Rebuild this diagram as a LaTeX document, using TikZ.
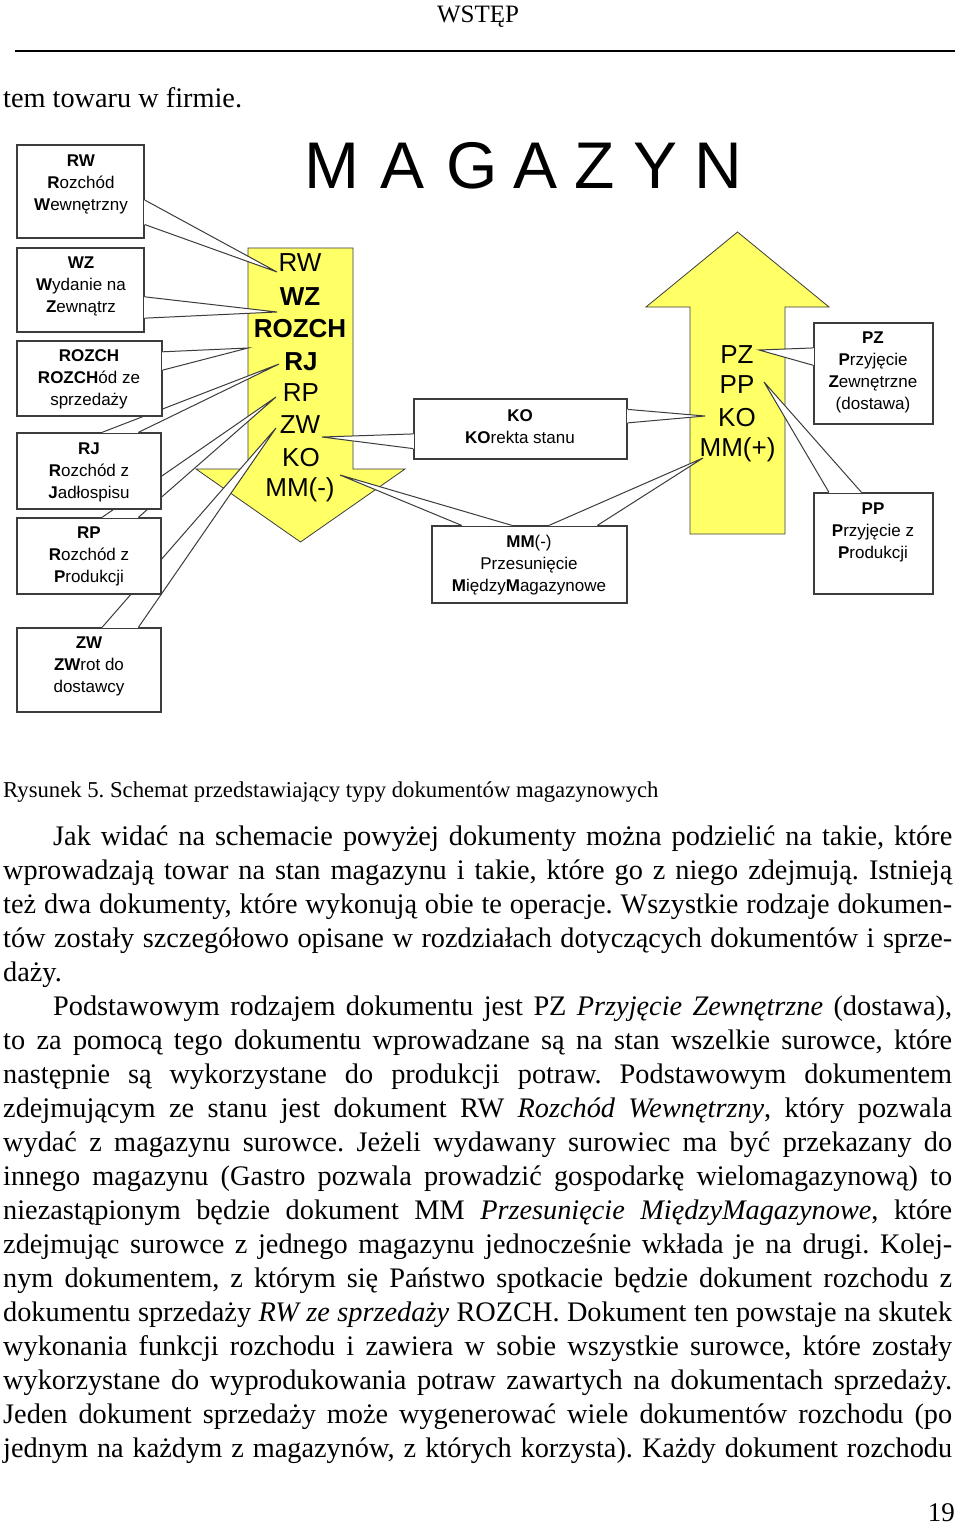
\documentclass[tikz,border=0pt]{standalone}
\usepackage{fontspec}
\setmainfont{Liberation Serif}
\newfontfamily\arialf{Liberation Sans}
\usetikzlibrary{calc}
\frenchspacing
\definecolor{arrowyellow}{RGB}{255,255,102}
\definecolor{edgegray}{RGB}{60,60,60}
\newcommand\callwedge[3]{%
  \fill[white] #1 -- #3 -- #2 -- cycle;
  \draw[white, line width=1.8pt] #1 -- #2;
  \draw[wedgeline] #1 -- #3 -- #2;
}
\newcommand\jline[4]{\node[bodytext] (#1) at (#2) {\makebox[#3pt][s]{#4}};}
\newcommand\nline[3]{\node[bodytext] (#1) at (#2) {#3};}
\begin{document}
\begin{tikzpicture}[x=1pt,y=-1pt,
  cbox/.style={draw=edgegray, line width=1.3pt, fill=white, inner sep=0pt},
  ctext/.style={align=center, font=\arialf\fontsize{17}{22}\selectfont, inner sep=0pt},
  atext/.style={font=\arialf\fontsize{26}{30}\selectfont, inner sep=0pt},
  bigarrow/.style={draw=edgegray, line width=0.8pt, fill=arrowyellow, line join=miter},
  wedgeline/.style={edgegray, line width=1pt, line join=miter},
  bodytext/.style={anchor=base west, inner sep=0pt, font=\fontsize{28.3}{34}\selectfont},
]
\useasboundingbox (0,0) rectangle (960,1527);
\fill[white] (0,0) rectangle (960,1527);

% ---- header ----
\node[anchor=base, inner sep=0pt, font=\fontsize{25}{30}\selectfont] (head) at (478,22) {WSTĘP};
\coordinate (ruleL) at (15,51);
\coordinate (ruleR) at (955,51);
\draw[line width=1.8pt] (ruleL) -- (ruleR);
\nline{t0}{3,107}{tem towaru w firmie.}

% ---- big arrows ----
\path[bigarrow] (248,248) -- (353,248) -- (353,469) -- (405,469) -- (300.5,542) -- (196,469) -- (248,469) -- cycle;
\path[bigarrow] (690,534) -- (690,307) -- (646,307) -- (737.5,232) -- (829,307) -- (785,307) -- (785,534) -- cycle;

% ---- title ----
\node[anchor=base west, inner sep=0pt, font=\arialf\fontsize{66}{66}\selectfont] (title) at (304.5,188)
  {M\kern20.5pt A\kern22.3pt G\kern15.3pt A\kern17.8pt Z\kern17.8pt Y\kern17.1pt N};

% ---- tip coordinates ----
\coordinate (tipRW) at (277,272);
\coordinate (tipWZ) at (277,312);
\coordinate (tipROZCH) at (248,348);
\coordinate (tipRJ) at (279,364);
\coordinate (tipRP) at (276,397);
\coordinate (tipZW) at (276,428);
\coordinate (tipKOl) at (322,437);
\coordinate (tipKOr) at (705,416);
\coordinate (tipMMl) at (340,475);
\coordinate (tipMMr) at (703,458);
\coordinate (tipPZ) at (759,350);
\coordinate (tipPP) at (764,382);

% ---- ZW ----
\node[cbox, minimum width=144pt, minimum height=84pt] (zw) at (89,670) {};
\coordinate (zwA) at ($(zw.north west)!0.59!(zw.north east)$);
\coordinate (zwB) at ($(zw.north west)!0.84!(zw.north east)$);
\callwedge{(zwA)}{(zwB)}{(tipZW)}
\node[ctext] (zwT) at (89,666) {\textbf{ZW}\\\textbf{ZW}rot do\\dostawcy};

% ---- RP ----
\node[cbox, minimum width=144pt, minimum height=76pt] (rp) at (89,556) {};
\coordinate (rpA) at ($(rp.north west)!0.59!(rp.north east)$);
\coordinate (rpB) at ($(rp.north west)!0.84!(rp.north east)$);
\callwedge{(rpA)}{(rpB)}{(tipRP)}
\node[ctext] (rpT) at (89,556) {\textbf{RP}\\\textbf{R}ozchód z\\\textbf{P}rodukcji};

% ---- RJ ----
\node[cbox, minimum width=144pt, minimum height=76pt] (rj) at (89,471) {};
\coordinate (rjA) at ($(rj.north west)!0.59!(rj.north east)$);
\coordinate (rjB) at ($(rj.north west)!0.84!(rj.north east)$);
\callwedge{(rjA)}{(rjB)}{(tipRJ)}
\node[ctext] (rjT) at (89,472) {\textbf{RJ}\\\textbf{R}ozchód z\\\textbf{J}adłospisu};

% ---- ROZCH ----
\node[cbox, minimum width=145pt, minimum height=75pt] (rozch) at (89.5,378.5) {};
\coordinate (rozchA) at ($(rozch.north east)!0.15!(rozch.south east)$);
\coordinate (rozchB) at ($(rozch.north east)!0.39!(rozch.south east)$);
\callwedge{(rozchA)}{(rozchB)}{(tipROZCH)}
\node[ctext] (rozchT) at (89,379) {\textbf{ROZCH}\\\textbf{ROZCH}ód ze\\sprzedaży};

% ---- WZ ----
\node[cbox, minimum width=127pt, minimum height=84pt] (wz) at (80.5,290) {};
\coordinate (wzA) at ($(wz.north east)!0.58!(wz.south east)$);
\coordinate (wzB) at ($(wz.north east)!0.83!(wz.south east)$);
\callwedge{(wzA)}{(wzB)}{(tipWZ)}
\node[ctext] (wzT) at (81,286) {\textbf{WZ}\\\textbf{W}ydanie na\\\textbf{Z}ewnątrz};

% ---- RW ----
\node[cbox, minimum width=127pt, minimum height=93pt] (rw) at (80.5,191.5) {};
\coordinate (rwA) at ($(rw.north east)!0.59!(rw.south east)$);
\coordinate (rwB) at ($(rw.north east)!0.85!(rw.south east)$);
\callwedge{(rwA)}{(rwB)}{(tipRW)}
\node[ctext] (rwT) at (81,184) {\textbf{RW}\\\textbf{R}ozchód\\\textbf{W}ewnętrzny};

% ---- KO ----
\node[cbox, minimum width=213pt, minimum height=60pt] (ko) at (520.5,429) {};
\coordinate (koA) at ($(ko.north west)!0.58!(ko.south west)$);
\coordinate (koB) at ($(ko.north west)!0.82!(ko.south west)$);
\callwedge{(koA)}{(koB)}{(tipKOl)}
\coordinate (koC) at ($(ko.north east)!0.18!(ko.south east)$);
\coordinate (koD) at ($(ko.north east)!0.40!(ko.south east)$);
\callwedge{(koC)}{(koD)}{(tipKOr)}
\node[ctext] (koT) at (520,427) {\textbf{KO}\\\textbf{KO}rekta stanu};

% ---- MM ----
\node[cbox, minimum width=195pt, minimum height=77pt] (mm) at (529.5,564.5) {};
\coordinate (mmA) at ($(mm.north west)!0.154!(mm.north east)$);
\coordinate (mmB) at ($(mm.north west)!0.41!(mm.north east)$);
\callwedge{(mmA)}{(mmB)}{(tipMMl)}
\coordinate (mmC) at ($(mm.north west)!0.60!(mm.north east)$);
\coordinate (mmD) at ($(mm.north west)!0.846!(mm.north east)$);
\callwedge{(mmC)}{(mmD)}{(tipMMr)}
\node[ctext] (mmT) at (529,565) {\textbf{MM}(-)\\Przesunięcie\\\textbf{M}iędzy\textbf{M}agazynowe};

% ---- PZ ----
\node[cbox, minimum width=119pt, minimum height=101pt] (pz) at (873.5,373.5) {};
\coordinate (pzA) at ($(pz.north west)!0.25!(pz.south west)$);
\coordinate (pzB) at ($(pz.north west)!0.42!(pz.south west)$);
\callwedge{(pzA)}{(pzB)}{(tipPZ)}
\node[ctext] (pzT) at (873,372.5) {\textbf{PZ}\\\textbf{P}rzyjęcie\\\textbf{Z}ewnętrzne\\(dostawa)};

% ---- PP ----
\node[cbox, minimum width=119pt, minimum height=101pt] (pp) at (873.5,543.5) {};
\coordinate (ppA) at ($(pp.north west)!0.13!(pp.north east)$);
\coordinate (ppB) at ($(pp.north west)!0.40!(pp.north east)$);
\callwedge{(ppA)}{(ppB)}{(tipPP)}
\node[ctext] (ppT) at (873,532) {\textbf{PP}\\\textbf{P}rzyjęcie z\\\textbf{P}rodukcji};

% ---- arrow texts ----
\node[atext] (aRW) at (300,263) {RW};
\node[atext] (aWZ) at (300,297) {\textbf{WZ}};
\node[atext] (aROZCH) at (300,329) {\textbf{ROZCH}};
\node[atext] (aRJ) at (301,362) {\textbf{RJ}};
\node[atext] (aRP) at (301,393) {RP};
\node[atext] (aZW) at (300,425) {ZW};
\node[atext] (aKO) at (301,458) {KO};
\node[atext] (aMM) at (300,490) {MM(-)};
\node[atext] (bPZ) at (737,355) {PZ};
\node[atext] (bPP) at (737,385) {PP};
\node[atext] (bKO) at (737,418) {KO};
\node[atext] (bMM) at (737.5,450) {MM(+)};

% ---- caption ----
\node[anchor=base west, inner sep=0pt, font=\fontsize{22.7}{27}\selectfont] (cap) at (3,797)
  {Rysunek 5. Schemat przedstawiający typy dokumentów magazynowych};

% ---- body text ----
\jline{b1}{53,845}{899}{Jak widać na schemacie powyżej dokumenty można podzielić na takie, które}
\jline{b2}{3,879}{949}{wprowadzają towar na stan magazynu i takie, które go z niego zdejmują. Istnieją}
\jline{b3}{3,913}{949}{też dwa dokumenty, które wykonują obie te operacje. Wszystkie rodzaje dokumen-}
\jline{b4}{3,947}{949}{tów zostały szczegółowo opisane w rozdziałach dotyczących dokumentów i sprze-}
\nline{b5}{3,981}{daży.}
\jline{b6}{53,1015}{899}{Podstawowym rodzajem dokumentu jest PZ \textit{Przyjęcie Zewnętrzne} (dostawa),}
\jline{b7}{3,1049}{949}{to za pomocą tego dokumentu wprowadzane są na stan wszelkie surowce, które}
\jline{b8}{3,1083}{949}{następnie są wykorzystane do produkcji potraw. Podstawowym dokumentem}
\jline{b9}{3,1117}{949}{zdejmującym ze stanu jest dokument RW \textit{Rozchód Wewnętrzny}, który pozwala}
\jline{b10}{3,1151}{949}{wydać z magazynu surowce. Jeżeli wydawany surowiec ma być przekazany do}
\jline{b11}{3,1185}{949}{innego magazynu (Gastro pozwala prowadzić gospodarkę wielomagazynową) to}
\jline{b12}{3,1219}{949}{niezastąpionym będzie dokument MM \textit{Przesunięcie MiędzyMagazynowe}, które}
\jline{b13}{3,1253}{949}{zdejmując surowce z jednego magazynu jednocześnie wkłada je na drugi. Kolej-}
\jline{b14}{3,1287}{949}{nym dokumentem, z którym się Państwo spotkacie będzie dokument rozchodu z}
\jline{b15}{3,1321}{949}{dokumentu sprzedaży \textit{RW ze sprzedaży} ROZCH. Dokument ten powstaje na skutek}
\jline{b16}{3,1355}{949}{wykonania funkcji rozchodu i zawiera w sobie wszystkie surowce, które zostały}
\jline{b17}{3,1389}{949}{wykorzystane do wyprodukowania potraw zawartych na dokumentach sprzedaży.}
\jline{b18}{3,1423}{949}{Jeden dokument sprzedaży może wygenerować wiele dokumentów rozchodu (po}
\jline{b19}{3,1457}{949}{jednym na każdym z magazynów, z których korzysta). Każdy dokument rozchodu}

% ---- page number ----
\node[anchor=base east, inner sep=0pt, font=\fontsize{27}{30}\selectfont] (pnum) at (955,1521) {19};
\end{tikzpicture}
\end{document}
